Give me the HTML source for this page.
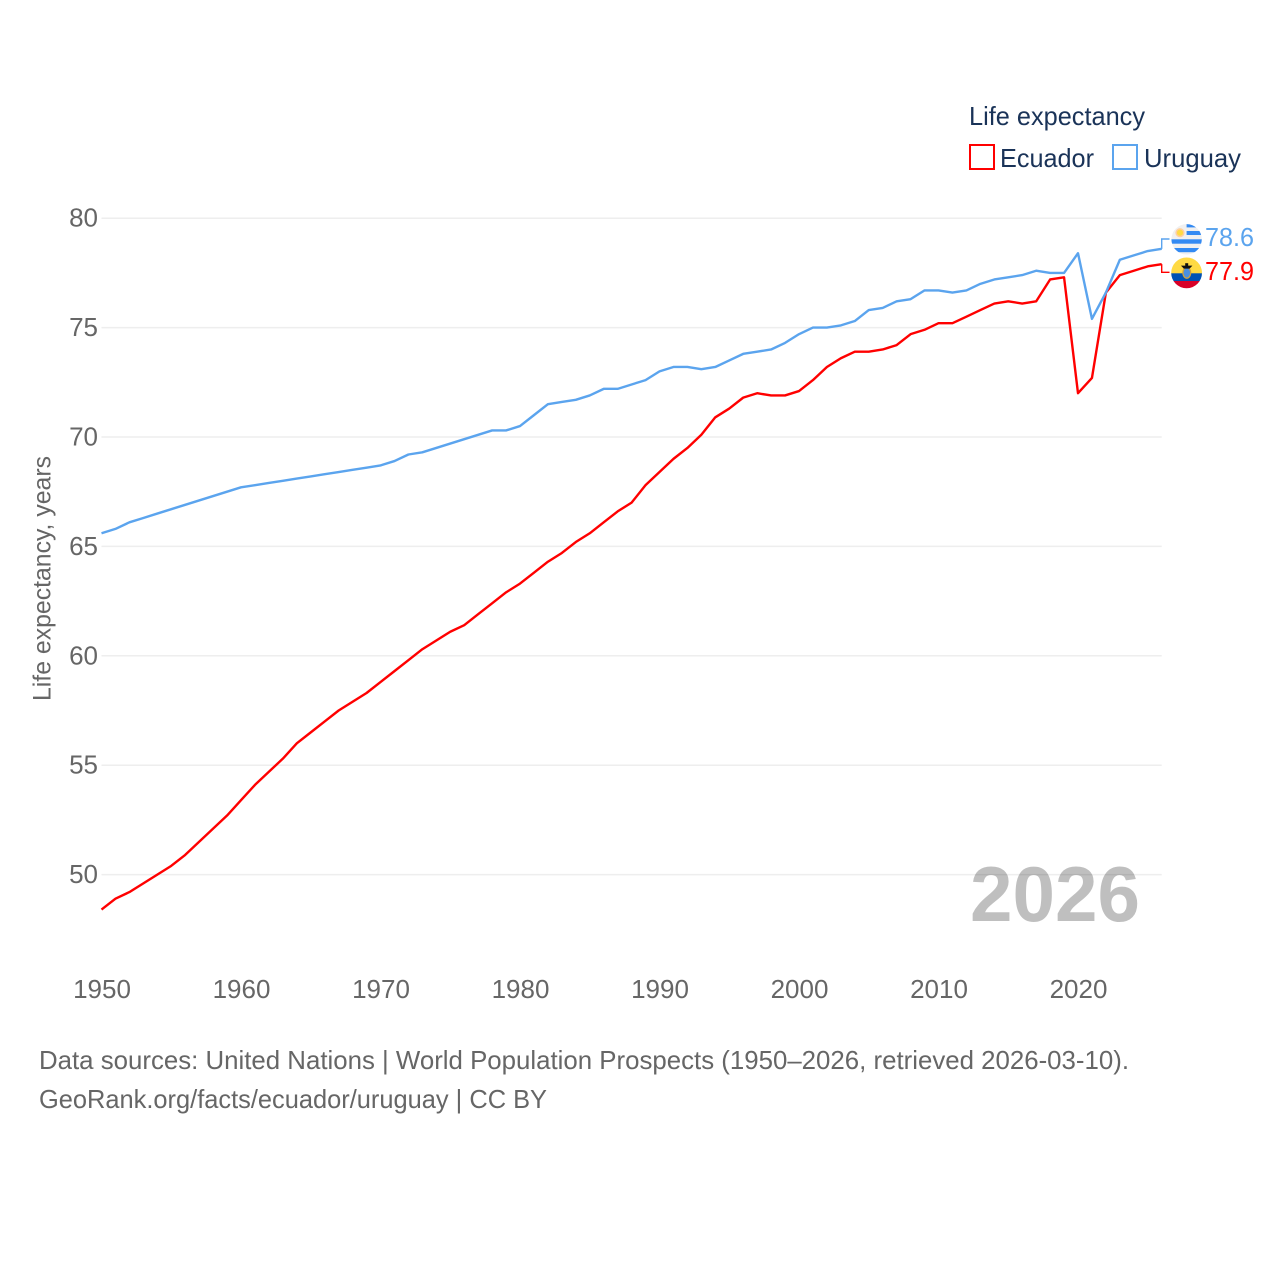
<!DOCTYPE html>
<html lang="en">
<head>
<meta charset="utf-8">
<title>Life expectancy: Ecuador and Uruguay</title>
<style>
html,body{margin:0;padding:0;background:#fff;}
svg{display:block;}
text{font-family:"Liberation Sans",sans-serif;}
</style>
</head>
<body>
<svg id="chart" xmlns="http://www.w3.org/2000/svg" width="1280" height="1280" viewBox="0 0 1280 1280">
  <defs>
    <clipPath id="clip-uy"><circle cx="1186.6" cy="239.3" r="15.2"/></clipPath>
    <clipPath id="clip-ec"><circle cx="1186.6" cy="272.9" r="15.4"/></clipPath>
  </defs>
  <rect x="0" y="0" width="1280" height="1280" fill="#ffffff"/>
  <g id="grid"></g>
  <g id="yticks"></g>
  <g id="xticks"></g>
  <text transform="translate(50.5,578.5) rotate(-90)" text-anchor="middle" font-size="25" fill="#666666" textLength="245" lengthAdjust="spacingAndGlyphs">Life expectancy, years</text>
  <text x="970" y="921" font-size="78" font-weight="700" fill="#000000" fill-opacity="0.25" textLength="170" lengthAdjust="spacingAndGlyphs">2026</text>
  <g id="series"></g>

  <g>
    <text x="969" y="125" font-size="26" fill="#1a3358" textLength="176" lengthAdjust="spacingAndGlyphs">Life expectancy</text>
    <rect x="970" y="145" width="24" height="24" fill="none" stroke="#ff0000" stroke-width="2"/>
    <text x="1000" y="167" font-size="26" fill="#1a3358" textLength="94" lengthAdjust="spacingAndGlyphs">Ecuador</text>
    <rect x="1113" y="145" width="24" height="24" fill="none" stroke="#5ba4ee" stroke-width="2"/>
    <text x="1144" y="167" font-size="26" fill="#1a3358" textLength="97" lengthAdjust="spacingAndGlyphs">Uruguay</text>
  </g>

  <g clip-path="url(#clip-uy)">
    <rect x="1171" y="224" width="32" height="31" fill="#f0f0f0"/>
    <rect x="1186.6" y="224" width="16" height="3.4" fill="#338af3"/>
    <rect x="1186.6" y="231" width="16" height="4" fill="#338af3"/>
    <rect x="1171" y="239.3" width="32" height="4.4" fill="#338af3"/>
    <rect x="1171" y="248" width="32" height="4.2" fill="#338af3"/>
    <circle cx="1180" cy="232.7" r="4.6" fill="#ffcfa0"/>
    <circle cx="1180" cy="232.7" r="3.1" fill="#ffda44"/>
  </g>
  <g clip-path="url(#clip-ec)">
    <rect x="1171" y="257" width="32" height="16.5" fill="#ffda44"/>
    <rect x="1171" y="273.3" width="32" height="7.7" fill="#0052b4"/>
    <rect x="1171" y="281" width="32" height="8" fill="#d80027"/>
    <ellipse cx="1186.8" cy="272.8" rx="3.9" ry="5.4" fill="#4a90e2" stroke="#d2a23c" stroke-width="1.3"/>
    <path d="M1181 265.6 L1192.4 265.6 L1189.6 268.6 L1183.8 268.6 Z" fill="#111111"/>
    <rect x="1185.2" y="263.2" width="3" height="3" fill="#111111"/>
  </g>
  <g id="endlabels"></g>

  <text x="39" y="1069" font-size="26" fill="#666666" textLength="1090" lengthAdjust="spacingAndGlyphs">Data sources: United Nations | World Population Prospects (1950–2026, retrieved 2026-03-10).</text>
  <text x="39" y="1108" font-size="26" fill="#666666" textLength="508" lengthAdjust="spacingAndGlyphs">GeoRank.org/facts/ecuador/uruguay | CC BY</text>
</svg>
<script>
const firstYear = 1950;
const ecuador = [48.4,48.9,49.2,49.6,50.0,50.4,50.9,51.5,52.1,52.7,53.4,54.1,54.7,55.3,56.0,56.5,57.0,57.5,57.9,58.3,58.8,59.3,59.8,60.3,60.7,61.1,61.4,61.9,62.4,62.9,63.3,63.8,64.3,64.7,65.2,65.6,66.1,66.6,67.0,67.8,68.4,69.0,69.5,70.1,70.9,71.3,71.8,72.0,71.9,71.9,72.1,72.6,73.2,73.6,73.9,73.9,74.0,74.2,74.7,74.9,75.2,75.2,75.5,75.8,76.1,76.2,76.1,76.2,77.2,77.3,72.0,72.7,76.6,77.4,77.6,77.8,77.9];
const uruguay = [65.6,65.8,66.1,66.3,66.5,66.7,66.9,67.1,67.3,67.5,67.7,67.8,67.9,68.0,68.1,68.2,68.3,68.4,68.5,68.6,68.7,68.9,69.2,69.3,69.5,69.7,69.9,70.1,70.3,70.3,70.5,71.0,71.5,71.6,71.7,71.9,72.2,72.2,72.4,72.6,73.0,73.2,73.2,73.1,73.2,73.5,73.8,73.9,74.0,74.3,74.7,75.0,75.0,75.1,75.3,75.8,75.9,76.2,76.3,76.7,76.7,76.6,76.7,77.0,77.2,77.3,77.4,77.6,77.5,77.5,78.4,75.4,76.6,78.1,78.3,78.5,78.6];
const yTickValues = [50,55,60,65,70,75,80];
const xTickValues = [1950,1960,1970,1980,1990,2000,2010,2020];

const NS = 'http://www.w3.org/2000/svg';
function xScale(year){ return 101.5 + (year - 1950) * 13.95; }
function yScale(v){ return 874.6 - (v - 50) * 21.88; }
function mk(tag, attrs, parent){
  const el = document.createElementNS(NS, tag);
  for (const k in attrs) el.setAttribute(k, attrs[k]);
  parent.appendChild(el);
  return el;
}

const grid = document.getElementById('grid');
const yticks = document.getElementById('yticks');
const xticks = document.getElementById('xticks');
const seriesG = document.getElementById('series');
const endG = document.getElementById('endlabels');
const lastYear = firstYear + ecuador.length - 1;

yTickValues.forEach(function(v){
  const ln = mk('line', {x1:101.5, x2:xScale(lastYear), y1:yScale(v), y2:yScale(v), stroke:'#eeeeee', 'stroke-width':1.5}, grid);
  
  
  const t = mk('text', {x:98, y:yScale(v)+8.5, 'text-anchor':'end', 'font-size':26, fill:'#666666'}, yticks);
  
  
  t.textContent = v;
});
xTickValues.forEach(function(yr){
  const t = mk('text', {x:xScale(yr)+0.5, y:998, 'text-anchor':'middle', 'font-size':26, fill:'#666666'}, xticks);
  
  
  t.textContent = yr;
});

function linePath(vals){
  return vals.map(function(v,i){ return (i?'L':'M') + xScale(firstYear+i).toFixed(2) + ' ' + yScale(v).toFixed(2); }).join(' ');
}
const ecPath = mk('path', {d:linePath(ecuador), fill:'none', stroke:'#ff0000', 'stroke-width':2.4, 'stroke-linejoin':'round'}, seriesG);


const uyPath = mk('path', {d:linePath(uruguay), fill:'none', stroke:'#5ba4ee', 'stroke-width':2.4, 'stroke-linejoin':'round'}, seriesG);



const lastX = xScale(lastYear);
const uyLast = uruguay[uruguay.length-1];
const ecLast = ecuador[ecuador.length-1];
const c1 = mk('path', {d:'M'+lastX+' '+yScale(uyLast)+' V239 H1169.5', fill:'none', stroke:'#5ba4ee', 'stroke-width':1.4}, endG);


const c2 = mk('path', {d:'M'+lastX+' '+yScale(ecLast)+' V272.3 H1169.5', fill:'none', stroke:'#ff0000', 'stroke-width':1.4}, endG);


const l1 = mk('text', {x:1205, y:246, 'font-size':26, fill:'#5ba4ee', textLength:49, lengthAdjust:'spacingAndGlyphs'}, endG);


l1.textContent = uyLast.toFixed(1);
const l2 = mk('text', {x:1205, y:280, 'font-size':26, fill:'#ff0000', textLength:49, lengthAdjust:'spacingAndGlyphs'}, endG);


l2.textContent = ecLast.toFixed(1);
</script>
</body>
</html>
